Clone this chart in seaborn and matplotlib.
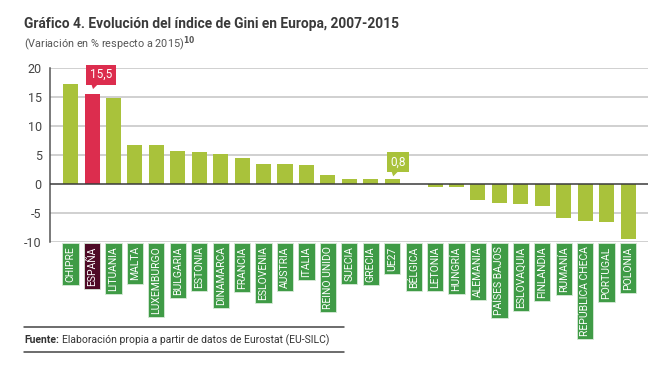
import matplotlib
matplotlib.use("Agg")
import matplotlib.pyplot as plt
import seaborn as sns
import pandas as pd
from matplotlib.transforms import offset_copy, blended_transform_factory
from matplotlib.patches import Polygon
from matplotlib.lines import Line2D

countries = ["CHIPRE", "ESPAÑA", "LITUANIA", "MALTA", "LUXEMBURGO", "BULGARIA", "ESTONIA",
             "DINAMARCA", "FRANCIA", "ESLOVENIA", "AUSTRIA", "ITALIA", "REINO UNIDO", "SUECIA",
             "GRECIA", "UE27", "BÉLGICA", "LETONIA", "HUNGRÍA", "ALEMANIA", "PAÍSES BAJOS",
             "ESLOVAQUIA", "FINLANDIA", "RUMANÍA", "REPÚBLICA CHECA", "PORTUGAL", "POLONIA"]
values = [17.2, 15.5, 14.8, 6.7, 6.7, 5.7, 5.5, 5.2, 4.4, 3.5, 3.5, 3.3, 1.6, 0.9,
          0.9, 0.8, 0.0, -0.5, -0.5, -2.8, -3.2, -3.4, -3.8, -5.9, -6.3, -6.6, -9.5]
yticks = [-10, -5, 0, 5, 10, 15, 20]
highlight = "ESPAÑA"
callouts = {"ESPAÑA": "15,5", "UE27": "0,8"}

GREEN_BAR = "#a9c23b"
RED_BAR = "#dc2d4e"
LABEL_GREEN = "#3f9b46"
LABEL_DARK = "#4e0a26"

df = pd.DataFrame({"country": countries, "value": values})
colors = [RED_BAR if c == highlight else GREEN_BAR for c in countries]

sns.set_theme(style="white")
plt.rcParams["font.family"] = ["Roboto", "DejaVu Sans"]

fig = plt.figure(figsize=(6.6, 3.65), dpi=100)
ax = fig.add_axes([50/660, 1-242/365, (648-50)/660, (242-68)/365])

sns.barplot(data=df, x="country", y="value", hue="country", palette=colors,
            legend=False, width=0.7, ax=ax, saturation=1, linewidth=0)

ax.set_ylim(-10, 20)
ax.set_xlim(-0.96, len(countries) - 1 + 0.93)
ax.set_yticks(yticks)
ax.set_yticklabels([str(t) for t in yticks], fontsize=9, color="#444444")
ax.tick_params(axis="y", length=0, pad=6)
ax.set_xticks([])
ax.set_xlabel("")
ax.set_ylabel("")
for t in yticks:
    if t == 0:
        continue
    ax.axhline(t, color="#c4c4c4", lw=1.1, zorder=0)
ax.axhline(0, color="#3a3a3a", lw=1.1, zorder=3)
for s in ["top", "right", "bottom"]:
    ax.spines[s].set_visible(False)
ax.spines["left"].set_color("#555555")
ax.spines["left"].set_linewidth(1.1)

# category label boxes
trans = blended_transform_factory(ax.transData, ax.transAxes)
for i, c in enumerate(countries):
    fc = LABEL_DARK if c == highlight else LABEL_GREEN
    ax.text(i, -0.025, c, rotation=90, ha="center", va="top", transform=trans,
            fontsize=7.5, color="white", clip_on=False,
            bbox=dict(boxstyle="square,pad=0.3", fc=fc, ec="#d8ead8", lw=0.6))

# callouts (pointer + value box above the bar)
fig.canvas.draw()
for c, lab in callouts.items():
    i = countries.index(c)
    v = values[i]
    fc = RED_BAR if c == highlight else GREEN_BAR
    tip_gap = 5 if c == highlight else 3
    px, py = ax.transData.transform((i, v))
    tri = Polygon([[px + 1, py + tip_gap], [px - 1, py + tip_gap + 6], [px + 7, py + tip_gap + 6]],
                  closed=True, fc=fc, ec="none", transform=None, clip_on=False)
    fig.add_artist(tri)
    ax.text(i, v, lab, transform=offset_copy(ax.transData, fig=fig, x=-2, y=tip_gap + 8, units="dots"),
            ha="left", va="bottom", fontsize=8.5, color="white", clip_on=False,
            bbox=dict(boxstyle="square,pad=0.3", fc=fc, ec="none"))

# title / subtitle
fig.text(24/660, 1-24/365, "Gráfico 4. Evolución del índice de Gini en Europa, 2007-2015",
         fontsize=9.9, fontweight="bold", color="#3a3a3a", va="center", ha="left")
fig.text(24/660, 1-44/365, r"(Variación en % respecto a 2015)$^{\mathbf{10}}$",
         fontsize=7.8, color="#555555", va="center", ha="left")

# footer
fig.add_artist(Line2D([24/660, 344/660], [1-327/365, 1-327/365], color="#444444", lw=1.1))
fig.add_artist(Line2D([24/660, 344/660], [1-352/365, 1-352/365], color="#444444", lw=1.1))
f1 = fig.text(24/660, 1-340/365, "Fuente:", fontsize=7.5, fontweight="bold", color="#333333",
              va="center", ha="left")
fig.canvas.draw()
bb = f1.get_window_extent()
fig.text((bb.x1 + 3)/660, 1-340/365, "Elaboración propia a partir de datos de Eurostat (EU-SILC)",
         fontsize=7.5, color="#333333", va="center", ha="left")

fig.savefig("out.png", dpi=100)
